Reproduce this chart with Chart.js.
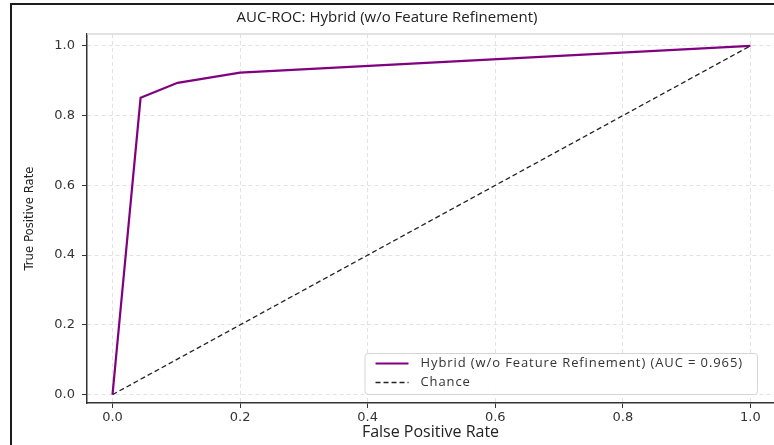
<!DOCTYPE html>
<html lang="en">
<head>
<meta charset="UTF-8">
<title>AUC-ROC: Hybrid (w/o Feature Refinement)</title>
<script src="https://cdn.jsdelivr.net/npm/chart.js"></script>
<style>
    html, body { margin: 0; padding: 0; background: #fff; overflow: hidden; }
    .wrap { position: relative; width: 774px; height: 445px; }
    .frame {
        position: absolute; left: 10px; top: 3px;
        width: 900px; height: 600px;
        border: 2px solid #1c1c1c;
        pointer-events: none;
    }
</style>
</head>
<body>
<div class="wrap">
    <canvas id="roc" width="774" height="445"></canvas>
    <div class="frame"></div>
</div>
<script>
    // ROC points
    const fprHybrid = [0.0, 0.044, 0.102, 0.2, 1.0];
    const tprHybrid = [0.0, 0.851, 0.894, 0.923, 1.0];
    const fprChance = [0.0, 1.0];
    const tprChance = [0.0, 1.0];
    const hybridLabel = 'Hybrid (w/o Feature Refinement) (AUC = 0.965)';
    const chanceLabel = 'Chance';
    const tickStep = 0.2;

    const toPoints = (xs, ys) => xs.map((x, i) => ({ x: x, y: ys[i] }));

    // legend box in the lower right, like matplotlib's
    const boxLegend = {
        id: 'boxLegend',
        afterDatasetsDraw(chart) {
            const { ctx, chartArea } = chart;
            const items = chart.data.datasets;
            ctx.save();
            ctx.font = '13px "Open Sans"';
            ctx.letterSpacing = '0.9px';
            const textW = Math.max(...items.map(d => ctx.measureText(d.label).width));
            const padL = 11, handle = 33, gap = 12, padR = 14, rowH = 19;
            const w = padL + handle + gap + textW + padR;
            const h = 10.5 + rowH * (items.length - 1) + 11.5;
            const x = chartArea.right - 17 - w;
            const y = chartArea.bottom - 9 - h;
            ctx.fillStyle = 'rgba(255,255,255,0.92)';
            ctx.strokeStyle = '#d4d4d4';
            ctx.lineWidth = 1;
            ctx.beginPath();
            ctx.roundRect(x + 0.5, y + 0.5, w, h, 3);
            ctx.fill();
            ctx.stroke();
            items.forEach((d, i) => {
                const cy = y + 10.5 + i * rowH;
                ctx.strokeStyle = d.borderColor;
                ctx.lineWidth = d.borderWidth;
                ctx.setLineDash(d.borderDash || []);
                ctx.beginPath();
                ctx.moveTo(x + padL, cy);
                ctx.lineTo(x + padL + handle, cy);
                ctx.stroke();
                ctx.setLineDash([]);
                ctx.fillStyle = '#333';
                ctx.textBaseline = 'middle';
                ctx.textAlign = 'left';
                ctx.fillText(d.label, x + padL + handle + gap, cy);
            });
            ctx.restore();
        }
    };

    // faint top spine
    const topSpine = {
        id: 'topSpine',
        beforeDatasetsDraw(chart) {
            const { ctx, chartArea } = chart;
            ctx.save();
            ctx.strokeStyle = '#d8d8d8';
            ctx.lineWidth = 1.5;
            ctx.beginPath();
            ctx.moveTo(chartArea.left, chartArea.top);
            ctx.lineTo(chartArea.right, chartArea.top);
            ctx.stroke();
            ctx.restore();
        }
    };

    const gridOpts = {
        color: '#e2e2e2',
        lineWidth: 1,
        tickLength: 5,
        tickColor: '#333',
        tickWidth: 1
    };

    new Chart(document.getElementById('roc'), {
        type: 'line',
        data: {
            datasets: [
                {
                    label: hybridLabel,
                    data: toPoints(fprHybrid, tprHybrid),
                    borderColor: '#800080',
                    borderWidth: 2.2,
                    pointRadius: 0,
                    tension: 0,
                    fill: false
                },
                {
                    label: chanceLabel,
                    data: toPoints(fprChance, tprChance),
                    borderColor: '#222',
                    borderWidth: 1.3,
                    borderDash: [5, 3],
                    pointRadius: 0,
                    tension: 0,
                    fill: false
                }
            ]
        },
        options: {
            responsive: false,
            animation: false,
            devicePixelRatio: 1,
            layout: { padding: 0 },
            plugins: {
                legend: { display: false },
                tooltip: { enabled: false },
                title: {
                    display: true,
                    text: 'AUC-ROC: Hybrid (w/o Feature Refinement)',
                    color: '#222',
                    font: { family: '"Open Sans"', size: 15, weight: 'normal', lineHeight: 1.2 },
                    padding: { top: 9, bottom: 7 }
                }
            },
            scales: {
                x: {
                    type: 'linear',
                    min: -0.04,
                    max: 1.037,
                    afterFit: s => { s.height = 42; },
                    grid: gridOpts,
                    border: { color: '#333', width: 1.5, dash: [4, 3] },
                    ticks: {
                        stepSize: tickStep,
                        includeBounds: false,
                        padding: 2,
                        color: '#333',
                        font: { family: '"DejaVu Sans"', size: 13 },
                        callback: v => v.toFixed(1)
                    },
                    title: {
                        display: true,
                        text: 'False Positive Rate',
                        color: '#222',
                        font: { family: '"Open Sans"', size: 16, lineHeight: 1.2 },
                        padding: { top: 3, bottom: 3 }
                    }
                },
                y: {
                    type: 'linear',
                    min: -0.024,
                    max: 1.034,
                    afterFit: s => { s.width = 87; },
                    grid: gridOpts,
                    border: { color: '#333', width: 1.5, dash: [4, 3] },
                    ticks: {
                        stepSize: tickStep,
                        includeBounds: false,
                        padding: 7,
                        color: '#333',
                        font: { family: '"DejaVu Sans"', size: 13 },
                        callback: v => v.toFixed(1)
                    },
                    title: {
                        display: true,
                        text: 'True Positive Rate',
                        color: '#222',
                        font: { family: '"DejaVu Sans Condensed", "Liberation Sans", sans-serif', size: 13, lineHeight: 1.2 },
                        padding: { top: 22, bottom: 22 }
                    }
                }
            }
        },
        plugins: [topSpine, boxLegend]
    });
</script>
</body>
</html>
